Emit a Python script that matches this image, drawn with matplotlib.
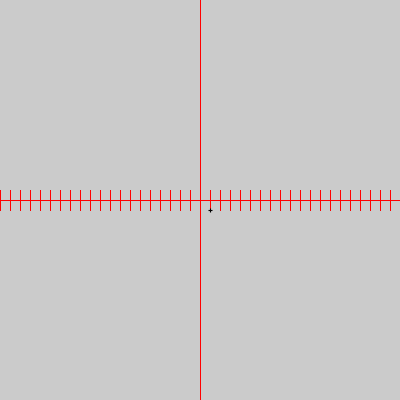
import matplotlib
matplotlib.use("Agg")
import matplotlib.pyplot as plt

# axis in units of 10 px, origin at the canvas centre
x_range = [-20, 20]
y_range = [-20, 20]
tick_x = [-20, -19, -18, -17, -16, -15, -14, -13, -12, -11,
          -10, -9, -8, -7, -6, -5, -4, -3, -2, -1,
          0, 1, 2, 3, 4, 5, 6, 7, 8, 9,
          10, 11, 12, 13, 14, 15, 16, 17, 18, 19]
tick_half = 1
marker_pos = [1, -1]

fig = plt.figure(figsize=(4, 4), dpi=100)
fig.patch.set_facecolor("#cbcbcb")
ax = fig.add_axes([0, 0, 1, 1])
ax.set_facecolor("#cbcbcb")
ax.set_xlim(x_range)
ax.set_ylim(y_range)
ax.axis("off")

lw = 0.72
ax.plot(x_range, [0, 0], color="red", lw=lw, antialiased=False)
ax.plot([0, 0], y_range, color="red", lw=lw, antialiased=False)
ax.vlines(tick_x, -tick_half, tick_half, color="red", lw=lw, antialiased=False)
ax.plot(marker_pos[0], marker_pos[1], marker="+", color="black", ms=3, mew=0.8)

fig.savefig("out.png", dpi=100, facecolor=fig.get_facecolor())
